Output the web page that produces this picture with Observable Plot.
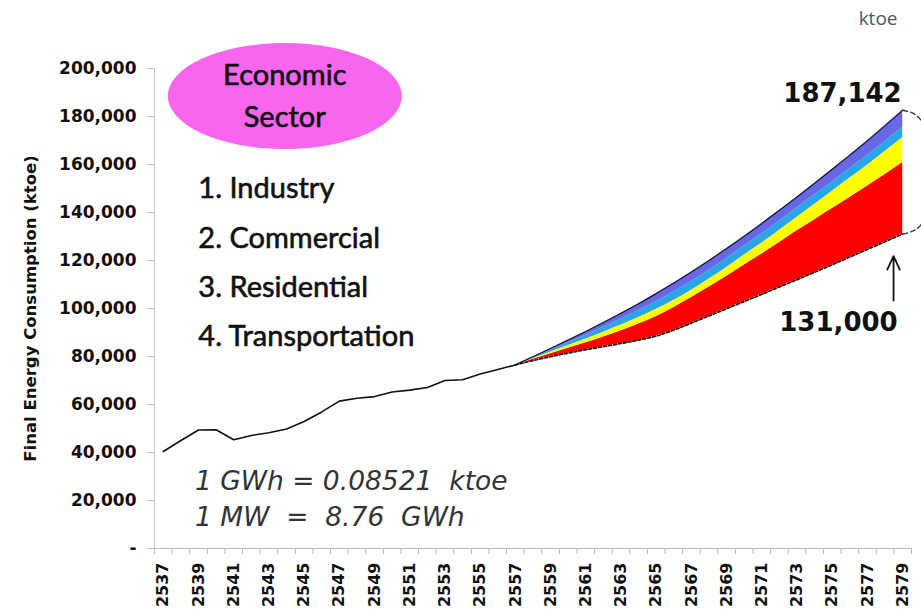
<!DOCTYPE html>
<html>
<head>
<meta charset="utf-8">
<script src="https://cdn.jsdelivr.net/npm/d3@7"></script>
<script src="https://cdn.jsdelivr.net/npm/@observablehq/plot@0.6"></script>
<style>
  html, body { margin: 0; padding: 0; background: #fff; }
  #chart svg { display: block; }
</style>
</head>
<body>
<div id="chart"></div>
<script>
// ---- data ----
const histYears = [2537,2538,2539,2540,2541,2542,2543,2544,2545,2546,2547,2548,2549,2550,2551,2552,2553,2554,2555,2556,2557];
const histValues = [40400,45000,49400,49500,45300,47100,48200,49800,52900,56900,61400,62600,63300,65200,66000,67100,70000,70300,72700,74600,76500];

const projYears = [2557,2558,2559,2560,2561,2562,2563,2564,2565,2566,2567,2568,2569,2570,2571,2572,2573,2574,2575,2576,2577,2578,2579];
const targetLine = [76500,78300,79900,81400,82800,84100,85400,86800,88500,91000,93900,96900,99900,102900,105900,109000,112000,115100,118200,121400,124600,127800,131000];
const bandRed    = [0,560,1240,2020,2910,4020,5290,6690,8140,9410,10650,12010,13550,15260,16840,18500,20360,21890,23480,24860,26410,28070,29820];
const bandYellow = [0,350,720,1140,1530,2010,2390,2740,3010,3040,3090,3350,3640,4090,4580,5100,5690,6490,7160,8080,8830,9680,10470];
const bandCyan   = [0,350,760,1140,1610,2010,2520,2890,3190,3430,3620,3700,3770,3810,3840,3830,3860,3900,3900,3950,3990,4070,4180];
const bandBlue   = [0,340,730,1150,1600,2010,2400,2880,3360,3720,3940,4040,4140,4090,4290,4470,4590,4820,5260,5610,6070,6580,7130];

const yTicks = [0,20000,40000,60000,80000,100000,120000,140000,160000,180000,200000];
const xLabelYears = [2537,2539,2541,2543,2545,2547,2549,2551,2553,2555,2557,2559,2561,2563,2565,2567,2569,2571,2573,2575,2577,2579];

const sectors = ["1. Industry","2. Commercial","3. Residential","4. Transportation"];
const bauLabel = "187,142";
const targetLabel = "131,000";
const conversions = ["1 GWh = 0.08521  ktoe", "1 MW  =  8.76  GWh"];

// ---- derived tables ----
const hist = histYears.map((y,i) => ({year: y, value: histValues[i]}));
const bandDefs = [
  {name: "red", fill: "#ff0000", vals: bandRed},
  {name: "yellow", fill: "#ffff00", vals: bandYellow},
  {name: "cyan", fill: "#29a6e6", vals: bandCyan},
  {name: "blue", fill: "#6868e6", vals: bandBlue}
];
const bands = [];
projYears.forEach((yr, i) => {
  let acc = targetLine[i];
  bandDefs.forEach(b => {
    bands.push({year: yr, band: b.name, lo: acc, hi: acc + b.vals[i]});
    acc += b.vals[i];
  });
});
const topLine = projYears.map((yr,i) => ({year: yr, value: targetLine[i] + bandRed[i] + bandYellow[i] + bandCyan[i] + bandBlue[i]}));
const bottomLine = projYears.map((yr,i) => ({year: yr, value: targetLine[i]}));
const lastTop = topLine[topLine.length-1].value;
const lastBot = bottomLine[bottomLine.length-1].value;
const lastYear = projYears[projYears.length-1];
const bracket = [
  [lastYear, lastTop], [lastYear+0.55, lastTop-1100], [lastYear+1.0, lastTop-3800], [lastYear+1.3, lastTop-8500],
  [lastYear+1.35, (lastTop+lastBot)/2],
  [lastYear+1.3, lastBot+8500], [lastYear+1.0, lastBot+3500], [lastYear+0.55, lastBot+1200], [lastYear, lastBot]
].map(([x,y]) => ({x, y}));
const boundaries = histYears.concat(projYears.slice(1)).map(y => y - 0.5).concat([lastYear + 0.5]);

const fmt = d3.format(",");

const chart = Plot.plot({
  width: 921,
  height: 613,
  marginLeft: 154,
  marginRight: 10,
  marginTop: 68,
  marginBottom: 65,
  style: {fontFamily: "DejaVu Sans", background: "#fff", overflow: "visible"},
  x: {domain: [2536.5, 2579.5], axis: null},
  y: {domain: [0, 200000], axis: null},
  marks: [
    Plot.ruleX([2536.5], {stroke: "#c8c8c8", strokeWidth: 1}),
    Plot.ruleY([0], {stroke: "#b8b8b8", strokeWidth: 1}),
    Plot.axisY({ticks: yTicks, tickSize: 6, tickPadding: 12, stroke: "#b8b8b8",
      tickFormat: d => d === 0 ? "-" : fmt(d), fontSize: 17, fontWeight: "bold", fill: "#111"}),
    Plot.axisX({ticks: boundaries, tickSize: 6, tickFormat: () => "", stroke: "#b8b8b8"}),
    Plot.axisX({ticks: xLabelYears, tickSize: 0, tickPadding: 14, tickRotate: -90,
      tickFormat: d => String(d), fontSize: 16, fontWeight: "bold", fill: "#111"}),
    Plot.text(["Final Energy Consumption (ktoe)"], {frameAnchor: "left", rotate: -90, dx: -124, textAnchor: "middle",
      fontSize: 16.5, fontWeight: "bold", fill: "#111"}),
    ...bandDefs.map(b => Plot.areaY(bands.filter(d => d.band === b.name), {x: "year", y1: "lo", y2: "hi", fill: b.fill, curve: "monotone-x"})),
    Plot.line(topLine, {x: "year", y: "value", stroke: "#1a1a3a", strokeWidth: 1.2, curve: "monotone-x"}),
    Plot.line(bottomLine, {x: "year", y: "value", stroke: "#111", strokeWidth: 1.6, strokeDasharray: "3,2", curve: "monotone-x"}),
    Plot.line(hist, {x: "year", y: "value", stroke: "#111", strokeWidth: 1.6}),
    Plot.line(bracket, {x: "x", y: "y", curve: "catmull-rom", stroke: "#333", strokeWidth: 1.3, strokeDasharray: "5,3", clip: false}),
    Plot.arrow([{x: 2578.48, y1: 103300, y2: 121800}], {x1: "x", x2: "x", y1: "y1", y2: "y2", stroke: "#111", strokeWidth: 1.8, headLength: 13, headAngle: 50}),
    Plot.text([bauLabel], {x: 2575.58, y: 189600, fontSize: 26, fontWeight: "bold", fill: "#111"}),
    Plot.text([targetLabel], {x: 2575.35, y: 94200, fontSize: 26, fontWeight: "bold", fill: "#111"}),
    Plot.text(["ktoe"], {x: 2577.6, y: 220800, fontSize: 19, fontFamily: "Open Sans", fill: "#555"}),
    Plot.text(sectors, {x: 2538.99, y: (d, i) => [150000, 129200, 108750, 88330][i], textAnchor: "start",
      fontSize: 29, fontFamily: "Lato", fill: "#111", stroke: "#111", strokeWidth: 0.6}),
    Plot.text(conversions, {x: 2538.8, y: (d, i) => [27900, 12900][i], textAnchor: "start",
      fontSize: 26.5, fontStyle: "italic", fontFamily: "DejaVu Sans", fill: "#333"})
  ]
});

// pink ellipse annotation, positioned through the plot's scales
const sx = chart.scale("x"), sy = chart.scale("y");
const svg = d3.select(chart);
const cx = sx.apply(2543.93), cy = sy.apply(188330);
const g = svg.insert("g", "g");
g.append("ellipse").attr("cx", cx).attr("cy", cy).attr("rx", 117).attr("ry", 53).attr("fill", "#f866ee");
g.append("text").attr("x", cx).attr("y", sy.apply(197080)).attr("dy", "0.35em")
  .attr("text-anchor", "middle").attr("font-family", "Lato").attr("font-size", 29).attr("fill", "#111")
  .attr("stroke", "#111").attr("stroke-width", 0.6).text("Economic");
g.append("text").attr("x", cx).attr("y", sy.apply(179580)).attr("dy", "0.35em")
  .attr("text-anchor", "middle").attr("font-family", "Lato").attr("font-size", 29).attr("fill", "#111")
  .attr("stroke", "#111").attr("stroke-width", 0.6).text("Sector");

document.getElementById("chart").appendChild(chart);
</script>
</body>
</html>
